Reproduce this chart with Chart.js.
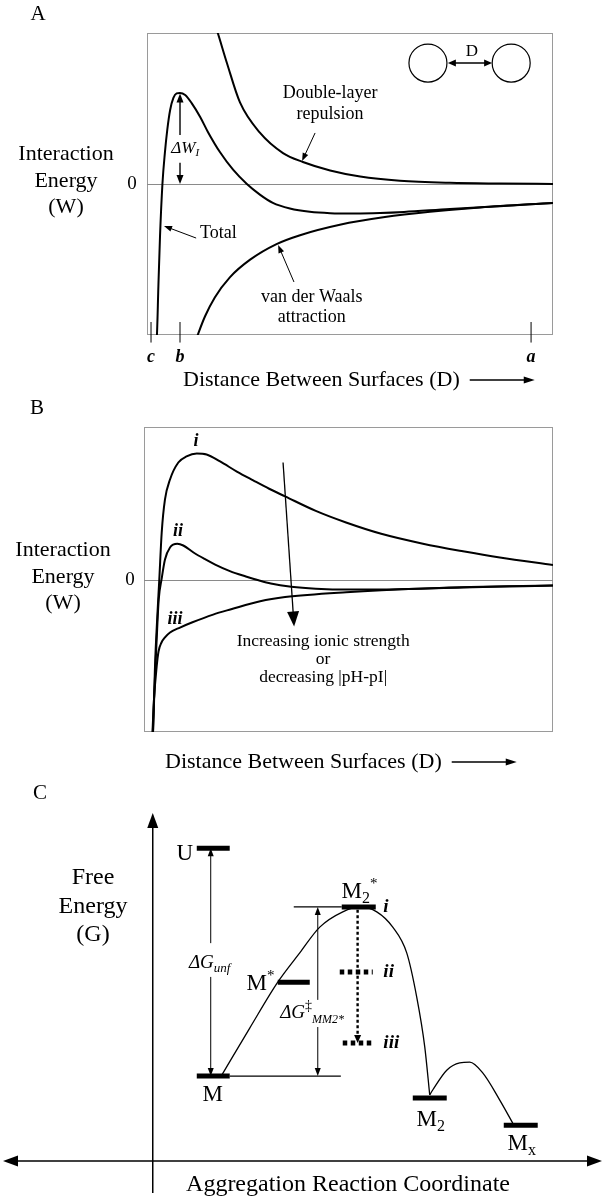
<!DOCTYPE html>
<html>
<head>
<meta charset="utf-8">
<script src="https://cdn.jsdelivr.net/npm/chart.js@4.4.1/dist/chart.umd.min.js"></script>
<style>
  html, body { margin: 0; padding: 0; background: #fff; }
  #wrap { position: relative; width: 604px; height: 1200px; }
  canvas { position: absolute; left: 0; }
</style>
</head>
<body>
<div id="wrap">
  <canvas id="panelA" width="604" height="400" style="top:0px"></canvas>
  <canvas id="panelB" width="604" height="380" style="top:400px"></canvas>
  <canvas id="panelC" width="604" height="420" style="top:780px"></canvas>
</div>
<script>
// ---- Panel A: interaction energy vs distance (arbitrary units) ----
const dlX = [16.3, 17.2, 19.7, 22.9, 27.8, 33.5, 38.4, 45.1, 52.5, 62.3, 74.6, 86.9, 100];
const dlW = [10.9, 10.2, 8.0, 5.4, 3.4, 2.05, 1.46, 0.9, 0.5, 0.22, 0.08, 0.03, 0];
const vdwX = [12.1, 12.6, 14.3, 16.7, 20.4, 25.4, 31.9, 37.7, 47.5, 58.6, 69.7, 82.0, 100];
const vdwW = [-10.3, -9.92, -8.76, -7.51, -6.18, -5.01, -3.98, -3.39, -2.70, -2.19, -1.84, -1.55, -1.25];
const totX = [2.3, 2.46, 2.8, 3.2, 3.8, 4.4, 5.0, 5.7, 6.5, 7.3, 8.1, 9.4, 11.0, 13.1, 15.0, 18.0, 21.2, 24.6,
  27.8, 31.0, 35.2, 40.1, 45.1, 51.2, 57.4, 63.3, 74.6, 86.9, 100];
const totW = [-10.3, -9.93, -6.8, -3.5, 0, 2.05, 3.6, 4.9, 5.7, 6.0, 6.03, 5.9, 5.36, 4.44, 3.45, 2.1, 0.95, 0,
  -0.7, -1.25, -1.62, -1.84, -1.93, -1.95, -1.92, -1.85, -1.65, -1.47, -1.25];
const markAX = [0.99, 8.13, 94.6];
const markALabels = ['c', 'b', 'a'];

// ---- Panel B: curves i, ii, iii ----
const iX = [2.0, 2.27, 2.69, 3.25, 3.74, 4.33, 5.13, 6.36, 8.39, 10.4, 12.9, 15.3, 18.6, 22.7, 26.7, 30.6, 34.5,
  42.0, 49.4, 58.0, 68.2, 78.0, 87.0, 100];
const iW = [-10.5, -9.7, -5.7, -2.43, 0, 3.08, 5.25, 6.56, 7.67, 8.07, 8.26, 8.2, 7.74, 7.08, 6.5, 5.95, 5.45,
  4.5, 3.74, 3.0, 2.35, 1.85, 1.44, 0.95];
const iiX = [2.1, 2.44, 3.1, 3.6, 4.33, 5.13, 6.36, 8.14, 9.6, 12.1, 14.8, 17.4, 21.0, 24.9, 28.0, 31.0, 36.0,
  42.0, 50.0, 60.0, 78.0, 100];
const iiW = [-10.5, -7.87, -3.93, -1.31, 0.07, 1.31, 2.1, 2.34, 2.23, 1.77, 1.35, 0.98, 0.55, 0.2, -0.05, -0.26,
  -0.47, -0.6, -0.66, -0.65, -0.52, -0.39];
const iiiX = [2.0, 2.44, 3.1, 3.55, 4.28, 5.13, 6.36, 8.8, 11.7, 16.9, 21.3, 28.4, 34.5, 49.4, 68.2, 100];
const iiiW = [-10.5, -7.87, -5.7, -4.72, -4.13, -3.8, -3.48, -3.15, -2.82, -2.3, -1.95, -1.42, -1.15, -0.83, -0.59, -0.39];

// ---- Panel C: free energy along aggregation coordinate ----
const levelNames = ['U', 'M', 'M*', 'M2*', 'M2', 'Mx'];
const levelX0 = [0.735, 0.735, 2.087, 3.155, 4.341, 5.860];
const levelX1 = [1.285, 1.285, 2.621, 3.723, 4.908, 6.427];
const levelG = [8.99, 2.44, 5.14, 7.30, 1.81, 1.03];
const altNames = ['ii', 'iii'];
const altX0 = [3.122, 3.172];
const altX1 = [3.673, 3.689];
const altG = [5.43, 3.39];
const refX0 = [1.285, 2.354];
const refX1 = [3.14, 3.155];
const refG = [2.44, 7.30];
const pathAX = [1.152, 1.619, 2.087, 2.454, 2.788, 3.172, 3.456, 3.740, 4.007, 4.240, 4.407, 4.541, 4.624];
const pathAG = [2.47, 3.82, 5.14, 5.98, 6.72, 7.16, 7.30, 7.16, 6.72, 5.98, 4.71, 3.28, 1.90];
const pathBX = [4.624, 4.674, 4.908, 5.125, 5.292, 5.509, 5.793, 6.010];
const pathBG = [1.90, 2.04, 2.61, 2.82, 2.84, 2.53, 1.75, 1.09];

const SERIF = '"Liberation Serif", "Times New Roman", Times, serif';

function font(size, style) {
  return (style ? style + ' ' : '') + size + 'px ' + SERIF;
}

function label(ctx, str, x, y, size, style, align) {
  ctx.font = font(size, style);
  ctx.textAlign = align || 'center';
  ctx.textBaseline = 'middle';
  ctx.fillStyle = '#000';
  ctx.fillText(str, x, y);
}

// pieces: [text, size, style, dy]; y is the baseline
function rich(ctx, pieces, x, y, align) {
  let w = 0;
  pieces.forEach(p => { ctx.font = font(p[1], p[2]); w += ctx.measureText(p[0]).width; });
  let cx = align === 'left' ? x : (align === 'right' ? x - w : x - w / 2);
  ctx.textAlign = 'left';
  ctx.textBaseline = 'alphabetic';
  ctx.fillStyle = '#000';
  pieces.forEach(p => {
    ctx.font = font(p[1], p[2]);
    ctx.fillText(p[0], cx, y + (p[3] || 0));
    cx += ctx.measureText(p[0]).width;
  });
}

function head(ctx, x, y, ang, len, w) {
  const c = Math.cos(ang), s = Math.sin(ang);
  ctx.beginPath();
  ctx.moveTo(x, y);
  ctx.lineTo(x - len * c - w / 2 * s, y - len * s + w / 2 * c);
  ctx.lineTo(x - len * c + w / 2 * s, y - len * s - w / 2 * c);
  ctx.closePath();
  ctx.fill();
}

function arrow(ctx, x1, y1, x2, y2, lw, len, w, both, dash) {
  const ang = Math.atan2(y2 - y1, x2 - x1);
  const c = Math.cos(ang), s = Math.sin(ang);
  ctx.save();
  ctx.strokeStyle = '#000';
  ctx.fillStyle = '#000';
  ctx.lineWidth = lw;
  if (dash) ctx.setLineDash(dash);
  ctx.beginPath();
  ctx.moveTo(both ? x1 + c * len * 0.5 : x1, both ? y1 + s * len * 0.5 : y1);
  ctx.lineTo(x2 - c * len * 0.5, y2 - s * len * 0.5);
  ctx.stroke();
  ctx.setLineDash([]);
  head(ctx, x2, y2, ang, len, w);
  if (both) head(ctx, x1, y1, ang + Math.PI, len, w);
  ctx.restore();
}

function curve(xs, ys, width, extra) {
  return Object.assign({
    data: xs.map((x, i) => ({ x, y: ys[i] })),
    showLine: true,
    borderColor: '#000',
    borderWidth: width,
    pointRadius: 0,
    cubicInterpolationMode: 'monotone',
    fill: false
  }, extra || {});
}

function segment(x0, x1, g, width, extra) {
  return Object.assign({
    data: [{ x: x0, y: g }, { x: x1, y: g }],
    showLine: true,
    borderColor: '#000',
    borderWidth: width,
    pointRadius: 0,
    borderCapStyle: 'butt',
    fill: false
  }, extra || {});
}

function options(xMin, xMax, yMin, yMax, padding) {
  return {
    responsive: false,
    animation: false,
    events: [],
    layout: { padding },
    plugins: { legend: { display: false }, tooltip: { enabled: false } },
    scales: {
      x: { type: 'linear', min: xMin, max: xMax, display: false },
      y: { type: 'linear', min: yMin, max: yMax, display: false }
    }
  };
}

// gray box and zero line behind the curves (panels A and B)
const frame = {
  id: 'frame',
  beforeDatasetsDraw(chart) {
    const { ctx, chartArea: a, scales: { y } } = chart;
    ctx.save();
    ctx.strokeStyle = '#9a9a9a';
    ctx.lineWidth = 1;
    ctx.strokeRect(a.left + 0.5, a.top + 0.5, a.width - 1, a.height - 1);
    const y0 = Math.round(y.getPixelForValue(0)) + 0.5;
    ctx.strokeStyle = '#8a8a8a';
    ctx.beginPath();
    ctx.moveTo(a.left, y0);
    ctx.lineTo(a.right, y0);
    ctx.stroke();
    ctx.restore();
  }
};

function energyAxisText(ctx, cx, ys, zeroX, zeroY) {
  label(ctx, 'Interaction', cx, ys[0], 22);
  label(ctx, 'Energy', cx, ys[1], 22);
  label(ctx, '(W)', cx, ys[2], 22);
  label(ctx, '0', zeroX, zeroY, 19);
}

function distanceText(ctx, x, y) {
  const str = 'Distance Between Surfaces (D)';
  label(ctx, str, x, y, 22, '', 'left');
  const end = x + ctx.measureText(str).width;
  arrow(ctx, end + 10, y, end + 75, y, 1.6, 11, 7);
}

const annotA = {
  id: 'annotA',
  afterDraw(chart) {
    const { ctx, scales: { x, y } } = chart;
    const X = v => x.getPixelForValue(v), Y = v => y.getPixelForValue(v);
    ctx.save();
    // c, b, a marks on the distance axis
    ctx.strokeStyle = '#000';
    ctx.lineWidth = 1;
    markAX.forEach((m, i) => {
      ctx.beginPath();
      ctx.moveTo(X(m), Y(-9.14));
      ctx.lineTo(X(m), Y(-10.5));
      ctx.stroke();
      label(ctx, markALabels[i], X(m), Y(-11.5), 18, 'bold italic');
    });
    // barrier height
    arrow(ctx, X(8.13), Y(3.25), X(8.13), Y(6.0), 1.4, 9, 7);
    arrow(ctx, X(8.13), Y(1.4), X(8.13), Y(0), 1.4, 9, 7);
    rich(ctx, [['\u0394W', 17, 'italic'], ['I', 11, 'italic', 3]], X(9.4), Y(2.45) + 6);
    // curve labels
    label(ctx, 'Double-layer', X(45.1), Y(6.03), 18);
    label(ctx, 'repulsion', X(45.1), Y(4.64), 18);
    arrow(ctx, X(41.4), Y(3.38), X(38.2), Y(1.52), 1, 8, 6);
    label(ctx, 'Total', X(17.6), Y(-3.25), 18);
    arrow(ctx, X(12.1), Y(-3.58), X(4.19), Y(-2.78), 1, 8, 6);
    label(ctx, 'van der Waals', X(40.6), Y(-7.48), 18);
    label(ctx, 'attraction', X(40.6), Y(-8.8), 18);
    arrow(ctx, X(36.2), Y(-6.49), X(32.3), Y(-4.04), 1, 8, 6);
    // inset: two particles separated by D
    ctx.lineWidth = 1.2;
    ctx.strokeStyle = '#000';
    [69.2, 89.7].forEach(cx => {
      ctx.beginPath();
      ctx.arc(X(cx), Y(8.01), 19, 0, Math.PI * 2);
      ctx.stroke();
    });
    arrow(ctx, X(74.1), Y(8.01), X(85.0), Y(8.01), 1.5, 8, 7, true);
    label(ctx, 'D', X(80), Y(8.74), 17);
    // outside text
    label(ctx, 'A', 38, 14, 21);
    energyAxisText(ctx, 66, [154, 181, 207], 132, 184);
    distanceText(ctx, 183, 380);
    ctx.restore();
  }
};

const annotB = {
  id: 'annotB',
  afterDraw(chart) {
    const { ctx, scales: { x, y } } = chart;
    const X = v => x.getPixelForValue(v), Y = v => y.getPixelForValue(v);
    ctx.save();
    label(ctx, 'i', X(12.7), Y(9.05), 18, 'bold italic');
    label(ctx, 'ii', X(8.3), Y(3.15), 18, 'bold italic');
    label(ctx, 'iii', X(7.6), Y(-2.62), 18, 'bold italic');
    arrow(ctx, X(34.0), Y(7.67), X(36.7), Y(-3.08), 1.3, 15, 12);
    label(ctx, 'Increasing ionic strength', X(43.8), Y(-4.07), 17.5);
    label(ctx, 'or', X(43.8), Y(-5.25), 17.5);
    label(ctx, 'decreasing |pH-pI|', X(43.8), Y(-6.43), 17.5);
    label(ctx, 'B', 37, 8, 21);
    energyAxisText(ctx, 63, [150, 177, 203], 130, 180);
    distanceText(ctx, 165, 362);
    ctx.restore();
  }
};

const annotC = {
  id: 'annotC',
  afterDraw(chart) {
    const { ctx, scales: { x, y } } = chart;
    const X = v => x.getPixelForValue(v), Y = v => y.getPixelForValue(v);
    ctx.save();
    // axes
    arrow(ctx, X(0), Y(-0.92), X(0), Y(10), 1.5, 15, 11);
    arrow(ctx, X(-2.5), Y(0), X(7.5), Y(0), 1.5, 15, 11, true);
    // unfolding free energy
    arrow(ctx, X(0.968), Y(6.26), X(0.968), Y(8.99), 1, 8, 6);
    arrow(ctx, X(0.968), Y(5.29), X(0.968), Y(2.44), 1, 8, 6);
    rich(ctx, [['\u0394G', 19, 'italic'], ['unf', 13, 'italic', 4]], X(0.95), Y(5.72) + 6);
    // activation free energy
    arrow(ctx, X(2.755), Y(4.63), X(2.755), Y(7.30), 1, 8, 6);
    arrow(ctx, X(2.755), Y(3.85), X(2.755), Y(2.44), 1, 8, 6);
    rich(ctx, [['\u0394G', 19, 'italic'], ['\u2021', 14, '', -8], ['MM2*', 12, 'italic', 5]], X(2.66), Y(4.28) + 6);
    // barrier lowering
    arrow(ctx, X(3.42), Y(7.22), X(3.42), Y(altG[1]), 2.4, 8, 7, false, [3, 2.5]);
    // level labels
    rich(ctx, [['U', 23, '']], X(0.534), Y(8.88) + 8);
    rich(ctx, [['M', 23, '']], X(1.0), Y(1.95) + 8);
    rich(ctx, [['M', 23, ''], ['*', 15, '', -10]], X(1.80), Y(5.14) + 8);
    rich(ctx, [['M', 23, ''], ['2', 16, '', 5], ['*', 15, '', -10]], X(3.45), Y(7.79) + 8);
    rich(ctx, [['M', 23, ''], ['2', 16, '', 5]], X(4.64), Y(1.24) + 8);
    rich(ctx, [['M', 23, ''], ['x', 16, '', 5]], X(6.16), Y(0.55) + 8);
    label(ctx, 'i', X(3.85), Y(levelG[3]), 19, 'bold italic', 'left');
    altNames.forEach((n, i) => label(ctx, n, X(3.85), Y(altG[i]), 19, 'bold italic', 'left'));
    // outside text
    label(ctx, 'C', 40, 13, 21);
    label(ctx, 'Free', 93, 98, 24);
    label(ctx, 'Energy', 93, 127, 24);
    label(ctx, '(G)', 93, 155, 24);
    label(ctx, 'Aggregation Reaction Coordinate', 348, 405, 24);
    ctx.restore();
  }
};

new Chart(document.getElementById('panelA'), {
  type: 'scatter',
  data: { datasets: [curve(dlX, dlW, 2), curve(totX, totW, 2), curve(vdwX, vdwW, 2)] },
  options: options(0, 100, -10, 10, { left: 147, right: 51, top: 33, bottom: 65 }),
  plugins: [frame, annotA]
});

new Chart(document.getElementById('panelB'), {
  type: 'scatter',
  data: { datasets: [curve(iX, iW, 2), curve(iiX, iiW, 2), curve(iiiX, iiiW, 2)] },
  options: options(0, 100, -10, 10, { left: 144, right: 51, top: 27, bottom: 48 }),
  plugins: [frame, annotB]
});

const levelSets = levelNames.map((n, i) => segment(levelX0[i], levelX1[i], levelG[i], 5, { label: n }));
const altSets = altNames.map((n, i) => segment(altX0[i], altX1[i], altG[i], 5, { label: n, borderDash: [4.5, 3.5] }));
const refSets = refG.map((g, i) => segment(refX0[i], refX1[i], g, 1.2));

new Chart(document.getElementById('panelC'), {
  type: 'scatter',
  data: {
    datasets: [...levelSets, ...altSets, ...refSets,
      curve(pathAX, pathAG, 1.3), curve(pathBX, pathBG, 1.3)]
  },
  options: options(-2.5, 7.5, 0, 10, { left: 3, right: 2, top: 33, bottom: 39 }),
  plugins: [annotC]
});
</script>
</body>
</html>
